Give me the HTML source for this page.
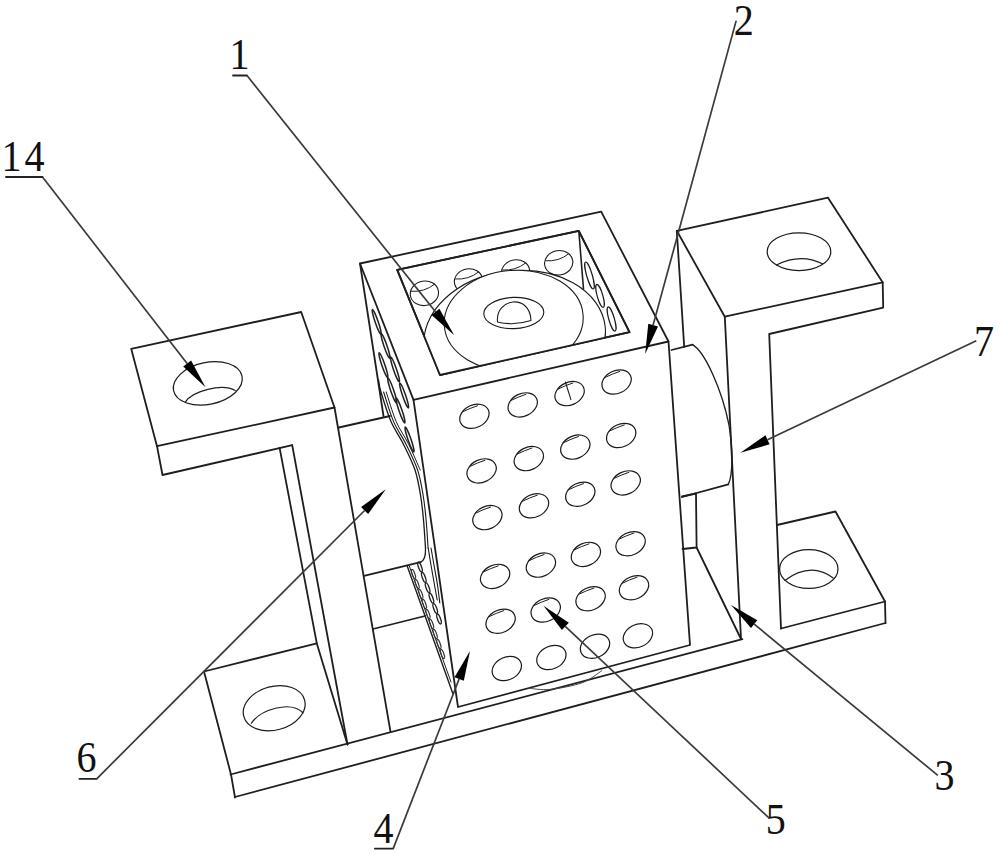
<!DOCTYPE html>
<html><head><meta charset="utf-8"><style>
html,body{margin:0;padding:0;background:#fff;}
svg{display:block;}
text{font-family:"Liberation Serif",serif;font-size:44.5px;fill:#111;}
</style></head><body>
<svg width="1000" height="856" viewBox="0 0 1000 856">
<rect width="1000" height="856" fill="#fff"/>
<path d="M233.0,75.5 L247.0,75.5" fill="none" stroke="#222" stroke-width="1.8" stroke-linejoin="round" stroke-linecap="round" />
<path d="M6.0,177.0 L42.5,177.0" fill="none" stroke="#222" stroke-width="1.8" stroke-linejoin="round" stroke-linecap="round" />
<path d="M374.9,848.6 L393.2,848.6" fill="none" stroke="#222" stroke-width="1.8" stroke-linejoin="round" stroke-linecap="round" />
<path d="M79.4,778.8 L96.7,778.8" fill="none" stroke="#222" stroke-width="1.8" stroke-linejoin="round" stroke-linecap="round" />
<path d="M131.2,348.8 L301.2,312.0 L334.5,407.5 L157.0,446.2 Z" fill="none" stroke="#1e1e1e" stroke-width="1.8" stroke-linejoin="round" stroke-linecap="round" />
<path d="M157.0,446.2 L162.5,475.0 L292.2,445.2" fill="none" stroke="#1e1e1e" stroke-width="1.8" stroke-linejoin="round" stroke-linecap="round" />
<path d="M334.5,407.5 L390.4,731.2" fill="none" stroke="#1e1e1e" stroke-width="1.8" stroke-linejoin="round" stroke-linecap="round" />
<path d="M279.6,447.9 L316.8,643.4 L347.5,744.5" fill="none" stroke="#1e1e1e" stroke-width="1.8" stroke-linejoin="round" stroke-linecap="round" />
<path d="M292.2,445.2 L347.5,744.5" fill="none" stroke="#1e1e1e" stroke-width="1.8" stroke-linejoin="round" stroke-linecap="round" />
<ellipse cx="207.8" cy="383.4" rx="35.0" ry="20.9" transform="rotate(-12 207.8 383.4)" fill="none" stroke="#1a1a1a" stroke-width="1.2" />
<path d="M185.3,402.1 C192,391 222,383 235.2,390.4" fill="none" stroke="#1e1e1e" stroke-width="1.2" stroke-linejoin="round" stroke-linecap="round" />
<path d="M204.0,671.5 L316.8,643.4" fill="none" stroke="#1e1e1e" stroke-width="1.8" stroke-linejoin="round" stroke-linecap="round" />
<path d="M204.0,671.5 L231.0,774.4 L235.0,797.5" fill="none" stroke="#1e1e1e" stroke-width="1.8" stroke-linejoin="round" stroke-linecap="round" />
<path d="M230.5,774.5 L742.4,639.2" fill="none" stroke="#1e1e1e" stroke-width="1.8" stroke-linejoin="round" stroke-linecap="round" />
<path d="M781.0,628.5 L885.0,601.5" fill="none" stroke="#1e1e1e" stroke-width="1.8" stroke-linejoin="round" stroke-linecap="round" />
<path d="M235.0,797.0 L885.5,623.0" fill="none" stroke="#1e1e1e" stroke-width="1.8" stroke-linejoin="round" stroke-linecap="round" />
<ellipse cx="274.2" cy="708.2" rx="31.5" ry="21.8" transform="rotate(-15 274.2 708.2)" fill="none" stroke="#1a1a1a" stroke-width="1.2" />
<path d="M251.4,723.2 C260,710 290,700 303,712.8" fill="none" stroke="#1e1e1e" stroke-width="1.2" stroke-linejoin="round" stroke-linecap="round" />
<path d="M676.8,230.8 L828.0,197.7 L882.7,282.4 L724.8,316.7 Z" fill="none" stroke="#1e1e1e" stroke-width="1.8" stroke-linejoin="round" stroke-linecap="round" />
<path d="M882.7,282.4 L883.2,307.6 L769.2,334.0 L781.0,628.5" fill="none" stroke="#1e1e1e" stroke-width="1.8" stroke-linejoin="round" stroke-linecap="round" />
<path d="M724.8,316.7 L741.0,639.0" fill="none" stroke="#1e1e1e" stroke-width="1.8" stroke-linejoin="round" stroke-linecap="round" />
<path d="M676.8,230.8 L684.2,346.8" fill="none" stroke="#1e1e1e" stroke-width="1.8" stroke-linejoin="round" stroke-linecap="round" />
<ellipse cx="799.0" cy="251.7" rx="31.8" ry="18.9" transform="rotate(0 799.0 251.7)" fill="none" stroke="#1a1a1a" stroke-width="1.2" />
<path d="M776.4,265 Q800.6,252.8 822.4,263.8" fill="none" stroke="#1e1e1e" stroke-width="1.2" stroke-linejoin="round" stroke-linecap="round" />
<path d="M777.0,525.0 L835.5,511.5 L885.0,601.5 L885.5,623.0" fill="none" stroke="#1e1e1e" stroke-width="1.8" stroke-linejoin="round" stroke-linecap="round" />
<ellipse cx="808.8" cy="569.0" rx="29.2" ry="19.4" transform="rotate(0 808.8 569.0)" fill="none" stroke="#1a1a1a" stroke-width="1.2" />
<path d="M784.8,580.4 Q811,561.2 833.2,578" fill="none" stroke="#1e1e1e" stroke-width="1.2" stroke-linejoin="round" stroke-linecap="round" />
<path d="M373.0,629.0 L425.0,616.0" fill="none" stroke="#1e1e1e" stroke-width="1.8" stroke-linejoin="round" stroke-linecap="round" />
<path d="M364.0,575.8 L420.6,562.1" fill="none" stroke="#1e1e1e" stroke-width="1.8" stroke-linejoin="round" stroke-linecap="round" />
<path d="M696.6,547.5 L741.0,639.0" fill="none" stroke="#1e1e1e" stroke-width="1.8" stroke-linejoin="round" stroke-linecap="round" />
<path d="M682.0,496.5 L696.0,493.5 L696.6,547.5 L682.5,549.0" fill="none" stroke="#1e1e1e" stroke-width="1.8" stroke-linejoin="round" stroke-linecap="round" />
<path d="M338.8,427.5 L390.0,416.0" fill="none" stroke="#1e1e1e" stroke-width="1.8" stroke-linejoin="round" stroke-linecap="round" />
<path d="M671.5,350.0 L692.6,344.7" fill="none" stroke="#1e1e1e" stroke-width="1.8" stroke-linejoin="round" stroke-linecap="round" />
<path d="M692.6,344.7 C705,352 722,390 729,425 C733,450 733,475 728.3,484.4" fill="none" stroke="#1e1e1e" stroke-width="1.35" stroke-linejoin="round" stroke-linecap="round" />
<path d="M728.3,484.4 L682.0,497.0" fill="none" stroke="#1e1e1e" stroke-width="1.8" stroke-linejoin="round" stroke-linecap="round" />
<path d="M360.0,263.5 L601.2,211.7 L668.5,341.5 L413.5,399.8 Z" fill="none" stroke="#1e1e1e" stroke-width="1.8" stroke-linejoin="round" stroke-linecap="round" />
<path d="M397.2,269.8 L578.8,230.8 L629.5,332.2 L440.0,375.0 Z" fill="none" stroke="#1e1e1e" stroke-width="1.8" stroke-linejoin="round" stroke-linecap="round" />
<path d="M413.5,399.8 L458.0,707.0 L690.0,645.0 L668.5,341.5" fill="none" stroke="#1e1e1e" stroke-width="1.8" stroke-linejoin="round" stroke-linecap="round" />
<path d="M360.0,263.5 L383.5,416.0" fill="none" stroke="#1e1e1e" stroke-width="1.8" stroke-linejoin="round" stroke-linecap="round" />
<path d="M378.5,380.0 C378.9,382.0 378.9,385.1 381.0,392.0 C383.1,398.9 387.2,412.8 391.0,421.6 C394.8,430.4 399.7,436.6 403.7,444.7 C407.7,452.8 412.2,461.6 415.0,470.0 C417.8,478.4 419.1,486.7 420.5,495.0 C421.9,503.3 422.7,511.2 423.5,520.0 C424.3,528.8 425.2,543.3 425.5,548.0" fill="none" stroke="#1a1a1a" stroke-width="1.3" stroke-linejoin="round" stroke-linecap="round" />
<path d="M383.6,392.0 C385.3,396.9 389.8,412.8 393.6,421.6 C397.4,430.4 402.3,436.6 406.3,444.7 C410.3,452.8 414.8,461.6 417.6,470.0 C420.4,478.4 421.7,486.7 423.1,495.0 C424.5,503.3 425.3,511.2 426.1,520.0 C426.9,528.8 427.8,543.3 428.1,548.0" fill="none" stroke="#1a1a1a" stroke-width="1.1" stroke-linejoin="round" stroke-linecap="round" />
<path d="M386.2,392.0 C387.9,396.9 392.4,412.8 396.2,421.6 C400.0,430.4 404.9,436.6 408.9,444.7 C412.9,452.8 418.3,465.8 420.2,470.0" fill="none" stroke="#1a1a1a" stroke-width="1.0" stroke-linejoin="round" stroke-linecap="round" />
<path d="M425.5,548 Q426,560 420.6,562.1" fill="none" stroke="#1e1e1e" stroke-width="1.3" stroke-linejoin="round" stroke-linecap="round" />
<path d="M407.2,565.9 L453.0,694.0" fill="none" stroke="#1e1e1e" stroke-width="1.4" stroke-linejoin="round" stroke-linecap="round" />
<ellipse cx="376.7" cy="322.0" rx="1.5" ry="13.2" transform="rotate(-19 376.7 322.0)" fill="none" stroke="#222" stroke-width="1.5" />
<ellipse cx="385.5" cy="346.0" rx="1.5" ry="13.2" transform="rotate(-19 385.5 346.0)" fill="none" stroke="#222" stroke-width="1.5" />
<ellipse cx="395.0" cy="369.4" rx="1.5" ry="13.2" transform="rotate(-19 395.0 369.4)" fill="none" stroke="#222" stroke-width="1.5" />
<ellipse cx="404.1" cy="395.4" rx="1.5" ry="13.2" transform="rotate(-19 404.1 395.4)" fill="none" stroke="#222" stroke-width="1.5" />
<ellipse cx="383.4" cy="365.2" rx="1.5" ry="13.2" transform="rotate(-19 383.4 365.2)" fill="none" stroke="#222" stroke-width="1.5" />
<ellipse cx="392.2" cy="390.4" rx="1.5" ry="13.2" transform="rotate(-19 392.2 390.4)" fill="none" stroke="#222" stroke-width="1.5" />
<ellipse cx="400.5" cy="410.5" rx="1.5" ry="13.2" transform="rotate(-19 400.5 410.5)" fill="none" stroke="#222" stroke-width="1.5" />
<ellipse cx="409.5" cy="439.5" rx="1.5" ry="13.2" transform="rotate(-19 409.5 439.5)" fill="none" stroke="#222" stroke-width="1.5" />
<path d="M409.3,566.0 L451.0,682.0" fill="none" stroke="#1e1e1e" stroke-width="1.0" stroke-linejoin="round" stroke-linecap="round" />
<path d="M428.2,548.0 C428.7,550.8 429.9,558.8 431.0,565.0 C432.1,571.2 433.5,579.2 434.5,585.0 C435.5,590.8 436.8,597.5 437.2,600.0" fill="none" stroke="#1a1a1a" stroke-width="1.1" stroke-linejoin="round" stroke-linecap="round" />
<path d="M431.0,548.0 C431.5,550.8 432.9,558.8 434.0,565.0 C435.1,571.2 436.5,578.7 437.5,585.0 C438.5,591.3 439.4,600.0 439.8,603.0" fill="none" stroke="#1a1a1a" stroke-width="1.1" stroke-linejoin="round" stroke-linecap="round" />
<ellipse cx="420.0" cy="567.0" rx="1.5" ry="5.2" transform="rotate(-20 420.0 567.0)" fill="none" stroke="#222" stroke-width="1.4" />
<ellipse cx="423.8" cy="577.4" rx="1.5" ry="5.2" transform="rotate(-20 423.8 577.4)" fill="none" stroke="#222" stroke-width="1.4" />
<ellipse cx="427.6" cy="587.8" rx="1.5" ry="5.2" transform="rotate(-20 427.6 587.8)" fill="none" stroke="#222" stroke-width="1.4" />
<ellipse cx="431.4" cy="598.2" rx="1.5" ry="5.2" transform="rotate(-20 431.4 598.2)" fill="none" stroke="#222" stroke-width="1.4" />
<ellipse cx="435.2" cy="608.6" rx="1.5" ry="5.2" transform="rotate(-20 435.2 608.6)" fill="none" stroke="#222" stroke-width="1.4" />
<ellipse cx="439.0" cy="619.0" rx="1.5" ry="5.2" transform="rotate(-20 439.0 619.0)" fill="none" stroke="#222" stroke-width="1.4" />
<ellipse cx="413.5" cy="574.0" rx="1.3" ry="4.8" transform="rotate(-20 413.5 574.0)" fill="none" stroke="#333" stroke-width="1.2" />
<ellipse cx="417.1" cy="584.0" rx="1.3" ry="4.8" transform="rotate(-20 417.1 584.0)" fill="none" stroke="#333" stroke-width="1.2" />
<ellipse cx="420.8" cy="594.0" rx="1.3" ry="4.8" transform="rotate(-20 420.8 594.0)" fill="none" stroke="#333" stroke-width="1.2" />
<ellipse cx="424.4" cy="604.0" rx="1.3" ry="4.8" transform="rotate(-20 424.4 604.0)" fill="none" stroke="#333" stroke-width="1.2" />
<ellipse cx="428.0" cy="614.0" rx="1.3" ry="4.8" transform="rotate(-20 428.0 614.0)" fill="none" stroke="#333" stroke-width="1.2" />
<ellipse cx="431.6" cy="624.0" rx="1.3" ry="4.8" transform="rotate(-20 431.6 624.0)" fill="none" stroke="#333" stroke-width="1.2" />
<ellipse cx="435.2" cy="634.0" rx="1.3" ry="4.8" transform="rotate(-20 435.2 634.0)" fill="none" stroke="#333" stroke-width="1.2" />
<ellipse cx="438.9" cy="644.0" rx="1.3" ry="4.8" transform="rotate(-20 438.9 644.0)" fill="none" stroke="#333" stroke-width="1.2" />
<ellipse cx="442.5" cy="654.0" rx="1.3" ry="4.8" transform="rotate(-20 442.5 654.0)" fill="none" stroke="#333" stroke-width="1.2" />
<ellipse cx="474.4" cy="416.3" rx="15.3" ry="11.3" transform="rotate(-25 474.4 416.3)" fill="none" stroke="#1a1a1a" stroke-width="1.2" />
<path d="M462.1,412.1 Q470.2,408.1 477.6,405.7" fill="none" stroke="#1e1e1e" stroke-width="1.0" stroke-linejoin="round" stroke-linecap="round" />
<ellipse cx="522.7" cy="404.9" rx="15.3" ry="11.3" transform="rotate(-25 522.7 404.9)" fill="none" stroke="#1a1a1a" stroke-width="1.2" />
<path d="M510.4,400.7 Q518.5,396.7 525.9,394.3" fill="none" stroke="#1e1e1e" stroke-width="1.0" stroke-linejoin="round" stroke-linecap="round" />
<ellipse cx="569.6" cy="393.6" rx="15.3" ry="11.3" transform="rotate(-25 569.6 393.6)" fill="none" stroke="#1a1a1a" stroke-width="1.2" />
<path d="M557.3,389.4 Q565.4,385.4 572.8,383.0" fill="none" stroke="#1e1e1e" stroke-width="1.0" stroke-linejoin="round" stroke-linecap="round" />
<ellipse cx="616.6" cy="382.0" rx="15.3" ry="11.3" transform="rotate(-25 616.6 382.0)" fill="none" stroke="#1a1a1a" stroke-width="1.2" />
<path d="M604.3,377.8 Q612.4,373.8 619.8,371.4" fill="none" stroke="#1e1e1e" stroke-width="1.0" stroke-linejoin="round" stroke-linecap="round" />
<ellipse cx="481.6" cy="470.9" rx="15.3" ry="11.3" transform="rotate(-25 481.6 470.9)" fill="none" stroke="#1a1a1a" stroke-width="1.2" />
<path d="M469.3,466.7 Q477.4,462.7 484.8,460.3" fill="none" stroke="#1e1e1e" stroke-width="1.0" stroke-linejoin="round" stroke-linecap="round" />
<ellipse cx="528.8" cy="458.6" rx="15.3" ry="11.3" transform="rotate(-25 528.8 458.6)" fill="none" stroke="#1a1a1a" stroke-width="1.2" />
<path d="M516.5,454.4 Q524.6,450.4 532.0,448.0" fill="none" stroke="#1e1e1e" stroke-width="1.0" stroke-linejoin="round" stroke-linecap="round" />
<ellipse cx="575.3" cy="447.1" rx="15.3" ry="11.3" transform="rotate(-25 575.3 447.1)" fill="none" stroke="#1a1a1a" stroke-width="1.2" />
<path d="M563.0,442.9 Q571.1,438.9 578.5,436.5" fill="none" stroke="#1e1e1e" stroke-width="1.0" stroke-linejoin="round" stroke-linecap="round" />
<ellipse cx="621.2" cy="435.5" rx="15.3" ry="11.3" transform="rotate(-25 621.2 435.5)" fill="none" stroke="#1a1a1a" stroke-width="1.2" />
<path d="M608.9,431.3 Q617.0,427.3 624.4,424.9" fill="none" stroke="#1e1e1e" stroke-width="1.0" stroke-linejoin="round" stroke-linecap="round" />
<ellipse cx="487.4" cy="517.6" rx="15.3" ry="11.3" transform="rotate(-25 487.4 517.6)" fill="none" stroke="#1a1a1a" stroke-width="1.2" />
<path d="M475.1,513.4 Q483.2,509.4 490.6,507.0" fill="none" stroke="#1e1e1e" stroke-width="1.0" stroke-linejoin="round" stroke-linecap="round" />
<ellipse cx="534.0" cy="505.8" rx="15.3" ry="11.3" transform="rotate(-25 534.0 505.8)" fill="none" stroke="#1a1a1a" stroke-width="1.2" />
<path d="M521.7,501.6 Q529.8,497.6 537.2,495.2" fill="none" stroke="#1e1e1e" stroke-width="1.0" stroke-linejoin="round" stroke-linecap="round" />
<ellipse cx="580.3" cy="494.2" rx="15.3" ry="11.3" transform="rotate(-25 580.3 494.2)" fill="none" stroke="#1a1a1a" stroke-width="1.2" />
<path d="M568.0,490.0 Q576.1,486.0 583.5,483.6" fill="none" stroke="#1e1e1e" stroke-width="1.0" stroke-linejoin="round" stroke-linecap="round" />
<ellipse cx="625.7" cy="482.9" rx="15.3" ry="11.3" transform="rotate(-25 625.7 482.9)" fill="none" stroke="#1a1a1a" stroke-width="1.2" />
<path d="M613.4,478.7 Q621.5,474.7 628.9,472.3" fill="none" stroke="#1e1e1e" stroke-width="1.0" stroke-linejoin="round" stroke-linecap="round" />
<ellipse cx="495.1" cy="576.4" rx="15.3" ry="11.3" transform="rotate(-25 495.1 576.4)" fill="none" stroke="#1a1a1a" stroke-width="1.2" />
<path d="M482.8,572.2 Q490.9,568.2 498.3,565.8" fill="none" stroke="#1e1e1e" stroke-width="1.0" stroke-linejoin="round" stroke-linecap="round" />
<ellipse cx="540.9" cy="565.1" rx="15.3" ry="11.3" transform="rotate(-25 540.9 565.1)" fill="none" stroke="#1a1a1a" stroke-width="1.2" />
<path d="M528.6,560.9 Q536.7,556.9 544.1,554.5" fill="none" stroke="#1e1e1e" stroke-width="1.0" stroke-linejoin="round" stroke-linecap="round" />
<ellipse cx="585.9" cy="554.4" rx="15.3" ry="11.3" transform="rotate(-25 585.9 554.4)" fill="none" stroke="#1a1a1a" stroke-width="1.2" />
<path d="M573.6,550.2 Q581.7,546.2 589.1,543.8" fill="none" stroke="#1e1e1e" stroke-width="1.0" stroke-linejoin="round" stroke-linecap="round" />
<ellipse cx="630.6" cy="543.7" rx="15.3" ry="11.3" transform="rotate(-25 630.6 543.7)" fill="none" stroke="#1a1a1a" stroke-width="1.2" />
<path d="M618.3,539.5 Q626.4,535.5 633.8,533.1" fill="none" stroke="#1e1e1e" stroke-width="1.0" stroke-linejoin="round" stroke-linecap="round" />
<ellipse cx="500.6" cy="621.2" rx="15.3" ry="11.3" transform="rotate(-25 500.6 621.2)" fill="none" stroke="#1a1a1a" stroke-width="1.2" />
<path d="M488.3,617.0 Q496.4,613.0 503.8,610.6" fill="none" stroke="#1e1e1e" stroke-width="1.0" stroke-linejoin="round" stroke-linecap="round" />
<ellipse cx="545.7" cy="610.0" rx="15.3" ry="11.3" transform="rotate(-25 545.7 610.0)" fill="none" stroke="#1a1a1a" stroke-width="1.2" />
<path d="M533.4,605.8 Q541.5,601.8 548.9,599.4" fill="none" stroke="#1e1e1e" stroke-width="1.0" stroke-linejoin="round" stroke-linecap="round" />
<ellipse cx="590.6" cy="598.7" rx="15.3" ry="11.3" transform="rotate(-25 590.6 598.7)" fill="none" stroke="#1a1a1a" stroke-width="1.2" />
<path d="M578.3,594.5 Q586.4,590.5 593.8,588.1" fill="none" stroke="#1e1e1e" stroke-width="1.0" stroke-linejoin="round" stroke-linecap="round" />
<ellipse cx="634.0" cy="587.7" rx="15.3" ry="11.3" transform="rotate(-25 634.0 587.7)" fill="none" stroke="#1a1a1a" stroke-width="1.2" />
<path d="M621.7,583.5 Q629.8,579.5 637.2,577.1" fill="none" stroke="#1e1e1e" stroke-width="1.0" stroke-linejoin="round" stroke-linecap="round" />
<ellipse cx="506.8" cy="668.5" rx="15.3" ry="11.3" transform="rotate(-25 506.8 668.5)" fill="none" stroke="#1a1a1a" stroke-width="1.2" />
<ellipse cx="551.4" cy="657.5" rx="15.3" ry="11.3" transform="rotate(-25 551.4 657.5)" fill="none" stroke="#1a1a1a" stroke-width="1.2" />
<ellipse cx="595.0" cy="646.2" rx="15.3" ry="11.3" transform="rotate(-25 595.0 646.2)" fill="none" stroke="#1a1a1a" stroke-width="1.2" />
<ellipse cx="637.9" cy="635.8" rx="15.3" ry="11.3" transform="rotate(-25 637.9 635.8)" fill="none" stroke="#1a1a1a" stroke-width="1.2" />
<path d="M565.4,382.0 L570.9,399.6" fill="none" stroke="#1e1e1e" stroke-width="1.1" stroke-linejoin="round" stroke-linecap="round" />
<path d="M529.2,688.3 C532.7,688.5 541.2,690.3 550.0,689.4 C558.8,688.5 573.4,685.9 582.0,682.8 C590.6,679.7 598.5,672.7 601.8,670.7" fill="none" stroke="#444" stroke-width="1.0" stroke-linejoin="round" stroke-linecap="round" />
<clipPath id="cav"><path d="M397.25,269.75 L578.75,230.75 L629.5,332.25 L440,375 Z"/></clipPath>
<g clip-path="url(#cav)">
<ellipse cx="424.4" cy="293.3" rx="14.2" ry="12.2" transform="rotate(-10 424.4 293.3)" fill="none" stroke="#1a1a1a" stroke-width="1.1" />
<path d="M411.4,291.3 Q424.4,292.3 434.4,284.3" fill="none" stroke="#1e1e1e" stroke-width="1.0" stroke-linejoin="round" stroke-linecap="round" />
<ellipse cx="468.5" cy="281.0" rx="14.2" ry="12.2" transform="rotate(-10 468.5 281.0)" fill="none" stroke="#1a1a1a" stroke-width="1.1" />
<path d="M455.5,279.0 Q468.5,280.0 478.5,272.0" fill="none" stroke="#1e1e1e" stroke-width="1.0" stroke-linejoin="round" stroke-linecap="round" />
<ellipse cx="515.6" cy="272.0" rx="14.2" ry="12.2" transform="rotate(-10 515.6 272.0)" fill="none" stroke="#1a1a1a" stroke-width="1.1" />
<path d="M502.6,270.0 Q515.6,271.0 525.6,263.0" fill="none" stroke="#1e1e1e" stroke-width="1.0" stroke-linejoin="round" stroke-linecap="round" />
<ellipse cx="558.7" cy="262.8" rx="14.2" ry="12.2" transform="rotate(-10 558.7 262.8)" fill="none" stroke="#1a1a1a" stroke-width="1.1" />
<path d="M545.7,260.8 Q558.7,261.8 568.7,253.8" fill="none" stroke="#1e1e1e" stroke-width="1.0" stroke-linejoin="round" stroke-linecap="round" />
<path d="M578.8,230.8 L583.5,289.0" fill="none" stroke="#1e1e1e" stroke-width="1.6" stroke-linejoin="round" stroke-linecap="round" />
<ellipse cx="589.5" cy="275.5" rx="2.8" ry="14.0" transform="rotate(-16 589.5 275.5)" fill="none" stroke="#1a1a1a" stroke-width="1.2" />
<ellipse cx="600.0" cy="295.8" rx="2.8" ry="11.9" transform="rotate(-16 600.0 295.8)" fill="none" stroke="#1a1a1a" stroke-width="1.2" />
<ellipse cx="611.6" cy="319.0" rx="2.8" ry="12.6" transform="rotate(-16 611.6 319.0)" fill="none" stroke="#1a1a1a" stroke-width="1.2" />
<ellipse cx="514.7" cy="337.1" rx="91.1" ry="66.2" transform="rotate(-7 514.7 337.1)" fill="#fff" stroke="#1a1a1a" stroke-width="1.1" />
<ellipse cx="513.7" cy="320.5" rx="69.6" ry="50.1" transform="rotate(-4.8 513.7 320.5)" fill="#fff" stroke="#1a1a1a" stroke-width="1.1" />
<ellipse cx="513.8" cy="313.0" rx="30.0" ry="15.6" transform="rotate(-2 513.8 313.0)" fill="none" stroke="#1a1a1a" stroke-width="1.1" />
<path d="M497.5,322 C495,298 530,293 531,320.5 Q514,326 497.5,322 Z" fill="none" stroke="#1e1e1e" stroke-width="1.1" stroke-linejoin="round" stroke-linecap="round" />
</g>
<path d="M397.2,269.8 L578.8,230.8 L629.5,332.2 L440.0,375.0 Z" fill="none" stroke="#1e1e1e" stroke-width="1.8" stroke-linejoin="round" stroke-linecap="round" />
<line x1="42.5" y1="177.0" x2="187.1" y2="363.5" stroke="#3a3a3a" stroke-width="1.7"/>
<path d="M205.5,387.2 L183.2,366.6 L191.1,360.5 Z" fill="#000"/>
<line x1="247.0" y1="75.5" x2="435.5" y2="311.8" stroke="#3a3a3a" stroke-width="1.7"/>
<path d="M454.2,335.2 L431.6,314.9 L439.4,308.7 Z" fill="#000"/>
<line x1="736.2" y1="20.6" x2="653.1" y2="325.1" stroke="#3a3a3a" stroke-width="1.7"/>
<path d="M645.2,354.0 L648.3,323.7 L658.0,326.4 Z" fill="#000"/>
<line x1="976.3" y1="340.7" x2="767.5" y2="439.8" stroke="#3a3a3a" stroke-width="1.7"/>
<path d="M740.4,452.7 L765.4,435.3 L769.6,444.3 Z" fill="#000"/>
<line x1="937.8" y1="775.4" x2="754.2" y2="624.1" stroke="#3a3a3a" stroke-width="1.7"/>
<path d="M731.0,605.0 L757.3,620.2 L751.0,627.9 Z" fill="#000"/>
<line x1="769.7" y1="818.7" x2="565.3" y2="626.4" stroke="#3a3a3a" stroke-width="1.7"/>
<path d="M543.5,605.8 L568.8,622.7 L561.9,630.0 Z" fill="#000"/>
<line x1="393.2" y1="848.6" x2="459.1" y2="679.0" stroke="#3a3a3a" stroke-width="1.7"/>
<path d="M470.0,651.0 L463.8,680.8 L454.5,677.2 Z" fill="#000"/>
<line x1="96.7" y1="778.8" x2="364.6" y2="510.5" stroke="#3a3a3a" stroke-width="1.7"/>
<path d="M385.8,489.3 L368.1,514.1 L361.1,507.0 Z" fill="#000"/>
<text transform="translate(229.50 69.00) scale(0.9 1)">1</text>
<text transform="translate(1.50 171.00) scale(0.9 1)" letter-spacing="3.4">14</text>
<text transform="translate(733.70 35.20) scale(0.9 1)">2</text>
<text transform="translate(974.00 356.00) scale(0.9 1)">7</text>
<text transform="translate(934.60 790.00) scale(0.9 1)">3</text>
<text transform="translate(765.70 834.30) scale(0.9 1)">5</text>
<text transform="translate(373.60 843.00) scale(0.9 1)">4</text>
<text transform="translate(76.50 772.30) scale(0.9 1)">6</text>
</svg>
</body></html>
